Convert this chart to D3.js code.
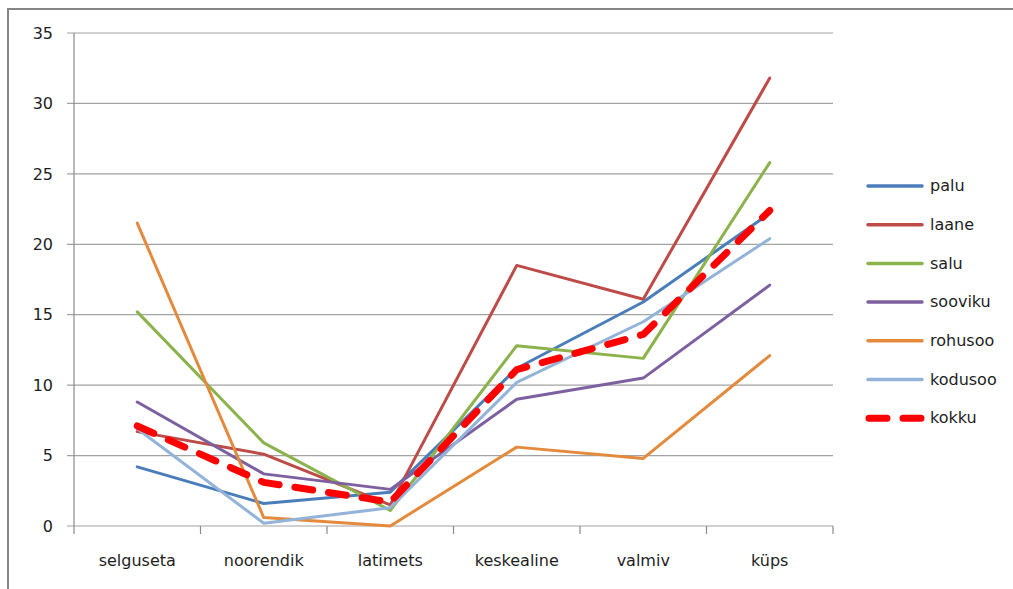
<!DOCTYPE html>
<html>
<head>
<meta charset="utf-8">
<script src="https://cdn.jsdelivr.net/npm/d3@7"></script>
<style>
  html, body { margin: 0; padding: 0; background: #fff; }
  svg { display: block; }
  text { font-family: "DejaVu Sans", sans-serif; fill: #1e1e1e; }
</style>
</head>
<body>
<svg id="chart" width="1013" height="589"></svg>
<script>
// Forest stand development classes
const categories = ["selguseta", "noorendik", "latimets", "keskealine", "valmiv", "küps"];

// Share (%) per site type in each development class
const palu    = [4.2, 1.6, 2.4, 11.2, 15.9, 22.2];
const laane   = [6.7, 5.1, 1.5, 18.5, 16.1, 31.8];
const salu    = [15.2, 5.9, 1.1, 12.8, 11.9, 25.8];
const sooviku = [8.8, 3.7, 2.6, 9.0, 10.5, 17.1];
const rohusoo = [21.5, 0.6, 0.0, 5.6, 4.8, 12.1];
const kodusoo = [6.9, 0.2, 1.3, 10.2, 14.5, 20.4];
const kokku   = [7.1, 3.1, 1.7, 11.1, 13.6, 22.4];

const seriesNames = ["palu", "laane", "salu", "sooviku", "rohusoo", "kodusoo", "kokku"];
const seriesValues = [palu, laane, salu, sooviku, rohusoo, kodusoo, kokku];
const seriesColors = ["#4a7ebb", "#be4b48", "#8cb24c", "#7d60a0", "#e38a3c", "#94b3d9", "#ff0000"];

const yTicks = [0, 5, 10, 15, 20, 25, 30, 35];

const svg = d3.select("#chart");

// Outer frame (top and left edges show inside the canvas)
svg.append("path")
  .attr("d", "M8,590 L8,9 L1014,9")
  .attr("fill", "none")
  .attr("stroke", "#858585")
  .attr("stroke-width", 2);

const plot = { left: 74, right: 833, top: 33, bottom: 526 };

const x = d3.scaleBand()
  .domain(categories)
  .range([plot.left, plot.right])
  .paddingInner(0)
  .paddingOuter(0);
const xc = c => x(c) + x.bandwidth() / 2;

const y = d3.scaleLinear().domain([0, 35]).range([plot.bottom, plot.top]);

// Horizontal gridlines, including the short tick stub left of the axis
svg.append("g")
  .selectAll("line")
  .data(yTicks)
  .join("line")
  .attr("x1", plot.left - 7)
  .attr("x2", plot.right)
  .attr("y1", d => y(d))
  .attr("y2", d => y(d))
  .attr("stroke", "#a2a2a2")
  .attr("stroke-width", 1.2);

// Vertical value axis
svg.append("line")
  .attr("x1", plot.left).attr("x2", plot.left)
  .attr("y1", plot.top).attr("y2", plot.bottom)
  .attr("stroke", "#8a8a8a").attr("stroke-width", 1.2);

// Value axis labels
svg.append("g")
  .selectAll("text")
  .data(yTicks)
  .join("text")
  .attr("x", 53)
  .attr("y", d => y(d))
  .attr("dy", "0.36em")
  .attr("text-anchor", "end")
  .attr("font-size", 16)
  .text(d => d);

// Category axis tick marks at band boundaries
const boundaries = categories.map(c => x(c)).concat([plot.right]);
svg.append("g")
  .selectAll("line")
  .data(boundaries)
  .join("line")
  .attr("x1", d => d).attr("x2", d => d)
  .attr("y1", plot.bottom).attr("y2", plot.bottom + 8)
  .attr("stroke", "#8a8a8a").attr("stroke-width", 1.2);

// Category labels
svg.append("g")
  .selectAll("text")
  .data(categories)
  .join("text")
  .attr("x", d => xc(d))
  .attr("y", 566)
  .attr("text-anchor", "middle")
  .attr("font-size", 16)
  .text(d => d);

// Series lines
const line = d3.line()
  .x((d, i) => xc(categories[i]))
  .y(d => y(d));

seriesNames.forEach((name, k) => {
  const isTotal = name === "kokku";
  svg.append("path")
    .datum(seriesValues[k])
    .attr("d", line)
    .attr("fill", "none")
    .attr("stroke", seriesColors[k])
    .attr("stroke-width", isTotal ? 7 : 3)
    .attr("stroke-linejoin", "round")
    .attr("stroke-linecap", "round")
    .attr("stroke-dasharray", isTotal ? "18,16" : null);
});

// Legend
const legend = svg.append("g");
const rowY = i => 186 + i * 38.7;
seriesNames.forEach((name, k) => {
  const isTotal = name === "kokku";
  legend.append("line")
    .attr("x1", isTotal ? 869 : 868).attr("x2", isTotal ? 921 : 922)
    .attr("y1", rowY(k)).attr("y2", rowY(k))
    .attr("stroke", seriesColors[k])
    .attr("stroke-width", isTotal ? 7 : 3.5)
    .attr("stroke-linecap", "round")
    .attr("stroke-dasharray", isTotal ? "18,16" : null);
  legend.append("text")
    .attr("x", 930)
    .attr("y", rowY(k))
    .attr("dy", "0.32em")
    .attr("font-size", 16)
    .text(name);
});
</script>
</body>
</html>
